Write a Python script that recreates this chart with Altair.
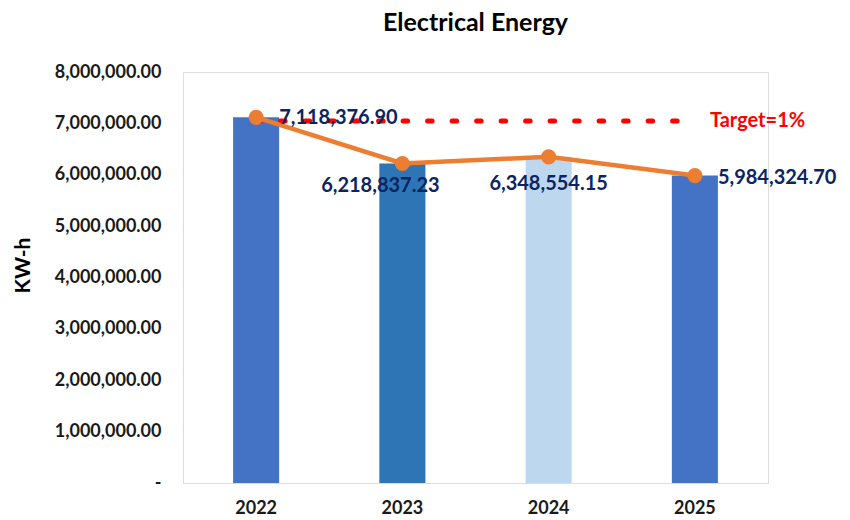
import altair as alt
import pandas as pd

years = ["2022", "2023", "2024", "2025"]
energy = [7118376.90, 6218837.23, 6348554.15, 5984324.70]
labels = ["7,118,376.90", "6,218,837.23", "6,348,554.15", "5,984,324.70"]
bar_colors = ["#4472C4", "#2E75B6", "#BDD7EE", "#4472C4"]
target_value = 7047193.13
target_label = "Target=1%"

df = pd.DataFrame({"Year": years, "Energy": energy, "Label": labels,
                   "Target": [target_value] * len(years)})

FONT = "Lato"
x_enc = alt.X("Year:N", sort=years,
              scale=alt.Scale(paddingInner=0.685, paddingOuter=0.3425),
              axis=alt.Axis(title=None, labelAngle=0, labelFontSize=18, labelFont=FONT,
                            labelFontWeight="bold", labelColor="#1a1a1a", ticks=False,
                            domain=False, labelPadding=16))
y_scale = alt.Scale(domain=[0, 8000000], nice=False)
y_enc = alt.Y("Energy:Q", scale=y_scale,
              axis=alt.Axis(title="KW-h", values=list(range(0, 8000001, 1000000)),
                            labelExpr="datum.value == 0 ? '-' : format(datum.value, ',.2f')",
                            labelFontSize=18, labelFont=FONT, labelFontWeight="bold",
                            labelColor="#1a1a1a", ticks=False, domain=False, grid=False,
                            labelPadding=22, titleFontSize=21, titleFont=FONT,
                            titleFontWeight="bold", titleColor="#000000",
                            titleX=-150, titleY=193))

base = alt.Chart(df)

bars = base.mark_bar().encode(
    x=x_enc, y=y_enc,
    color=alt.Color("Year:N", scale=alt.Scale(domain=years, range=bar_colors), legend=None))

target_line = base.mark_line(color="#FF0000", strokeWidth=5, strokeDash=[4.5, 20],
                             strokeCap="round").encode(
    x=alt.X("Year:N", sort=years), y=alt.Y("Target:Q", scale=y_scale))

line = base.mark_line(color="#ED7D31", strokeWidth=4.5).encode(
    x=alt.X("Year:N", sort=years), y=alt.Y("Energy:Q", scale=y_scale))
points = base.mark_point(color="#ED7D31", filled=True, size=230, opacity=1).encode(
    x=alt.X("Year:N", sort=years), y=alt.Y("Energy:Q", scale=y_scale))

offsets = {"2022": (23, 1, "left"), "2023": (-22, 22, "center"),
           "2024": (0, 27, "center"), "2025": (23, 2, "left")}
text_layers = []
for yr in years:
    dx, dy, al = offsets[yr]
    text_layers.append(
        base.transform_filter(alt.datum.Year == yr).mark_text(
            font=FONT, fontSize=20, fontWeight="bold", color="#0B2562",
            dx=dx, dy=dy, align=al, baseline="middle").encode(
            x=alt.X("Year:N", sort=years), y=alt.Y("Energy:Q", scale=y_scale),
            text="Label:N"))

tgt_text = base.transform_filter(alt.datum.Year == years[-1]).mark_text(
    font=FONT, fontSize=20, fontWeight="bold", color="#FF0000", dx=15, align="left",
    baseline="middle").encode(
    x=alt.X("Year:N", sort=years), y=alt.Y("Target:Q", scale=y_scale),
    text=alt.value(target_label))

chart = alt.layer(bars, target_line, line, points, *text_layers, tgt_text).properties(
    width=585, height=411,
    title=alt.TitleParams("Electrical Energy", fontSize=25, font=FONT, fontWeight="bold",
                          color="#000000", offset=27, anchor="middle"),
    autosize=alt.AutoSizeParams(type="none"),
    padding={"left": 183, "top": 72, "right": 82, "bottom": 37},
).configure_view(stroke="#D9D9D9", strokeWidth=1.5).configure(background="white")

chart.save("out.html", embed_options={"renderer": "svg", "actions": False})
